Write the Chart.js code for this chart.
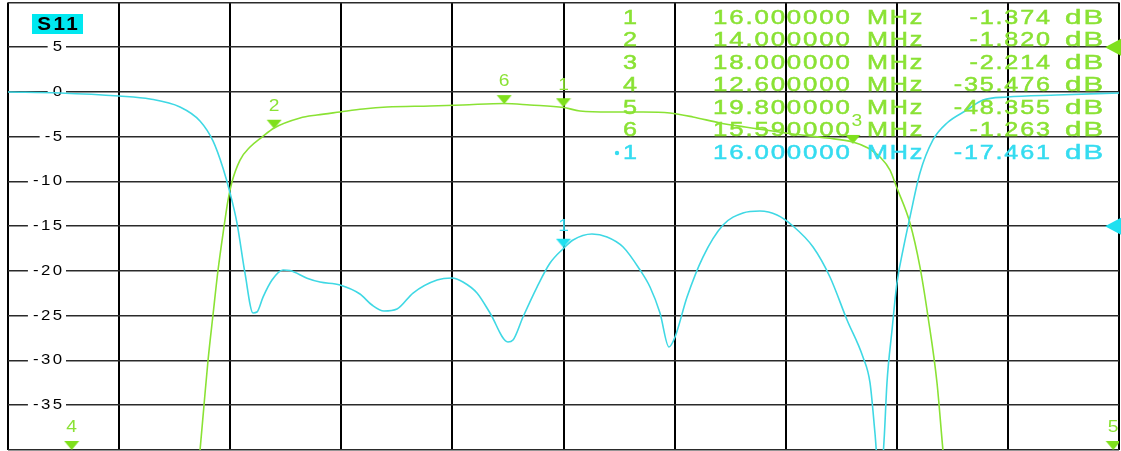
<!DOCTYPE html>
<html>
<head>
<meta charset="utf-8">
<title>S11 / S21</title>
<script src="https://cdn.jsdelivr.net/npm/chart.js@4.4.1/dist/chart.umd.min.js"></script>
<style>
  html, body { margin: 0; padding: 0; background: #fff; overflow: hidden; }
  #vna { display: block; }
</style>
</head>
<body>
<canvas id="vna" width="1121" height="451"></canvas>
<script>
// grid lines (10 divisions each way)
const xGridMHz = [12.16, 12.928, 13.696, 14.464, 15.232, 16.0, 16.768, 17.536, 18.304, 19.072, 19.84];
const yGridDb = [10, 5, 0, -5, -10, -15, -20, -25, -30, -35, -40];
const yTickLabels = [5, 0, -5, -10, -15, -20, -25, -30, -35];

// S11 trace (cyan)
const s11Freq = [12.16, 12.519, 12.927, 13.142, 13.349, 13.487, 13.577, 13.646, 13.695, 13.743,
  13.798, 13.854, 13.881, 13.923, 13.985, 14.061, 14.109, 14.227, 14.317, 14.455,
  14.593, 14.676, 14.759, 14.849, 14.96, 15.126, 15.229, 15.305, 15.402, 15.492,
  15.616, 15.651, 15.72, 15.817, 15.907, 16.003, 16.066, 16.197, 16.301, 16.412,
  16.529, 16.598, 16.667, 16.729, 16.771, 16.854, 16.964, 17.103, 17.241, 17.358,
  17.476, 17.586, 17.725, 17.842, 17.96, 18.07, 18.119, 18.153, 18.188, 18.216,
  18.236, 18.271, 18.305, 18.347, 18.395, 18.464, 18.554, 18.651, 18.789, 18.9,
  19.066, 19.411, 19.84];
const s11Db = [0, -0.11, -0.45, -0.78, -1.68, -3.24, -5.47, -8.49, -11.28, -14.64,
  -20.22, -24.69, -24.58, -22.91, -21.01, -19.89, -19.95, -20.8, -21.23, -21.56,
  -22.57, -23.8, -24.47, -24.25, -22.46, -21.01, -20.78, -21.23, -22.46, -24.69,
  -27.93, -27.71, -25.14, -21.79, -19.11, -17.43, -16.54, -15.87, -16.2, -17.32,
  -19.89, -21.79, -24.69, -28.49, -27.37, -22.91, -18.44, -14.86, -13.52, -13.3,
  -13.74, -14.97, -17.32, -20.67, -25.47, -29.61, -32.51, -38.1, -44.5, -38.9,
  -32.51, -26.59, -21.34, -17.65, -13.97, -9.05, -5.36, -3.46, -2.01, -0.89,
  -0.56, -0.34, -0.11];

// S21 trace (green)
const s21Freq = [13.453, 13.487, 13.515, 13.543, 13.577, 13.612, 13.653, 13.681, 13.708, 13.764,
  13.833, 13.916, 14.0, 14.179, 14.296, 14.455, 14.614, 14.78, 15.077, 15.305,
  15.59, 15.768, 16.0, 16.114, 16.322, 16.55, 16.736, 16.895, 17.082, 17.255,
  17.586, 17.822, 18.0, 18.105, 18.188, 18.257, 18.305, 18.395, 18.464, 18.52,
  18.582, 18.623, 18.651];
const s21Db = [-45.6, -40.1, -34.97, -29.94, -24.92, -19.89, -15.08, -12.07, -10.06, -7.6,
  -6.15, -5.03, -4.02, -2.91, -2.57, -2.23, -1.9, -1.68, -1.56, -1.45,
  -1.28, -1.45, -1.73, -2.12, -2.23, -2.23, -2.35, -2.79, -3.46, -3.91,
  -4.69, -5.14, -5.59, -6.26, -7.26, -8.72, -10.73, -14.64, -19.55, -25.14,
  -32.51, -40.0, -44.5];

// markers: readout table and where the triangle sits on screen
const markerIds = ['1', '2', '3', '4', '5', '6'];
const markerFreq = [16, 14, 18, 12.6, 19.8, 15.59];
const markerReadout = [-1.374, -1.820, -2.214, -35.476, -48.355, -1.263];
const markerOnTrace = [-1.7, -4.1, -5.8, -40, -40, -1.35];
const s11MarkerIds = ['1'];
const s11MarkerFreq = [16];
const s11MarkerReadout = [-17.461];
const s11MarkerOnTrace = [-17.4];

const s21RefDb = 5;
const s11RefDb = -15;

const GREEN = '#8ae234';
const GREEN_MARK = '#7fe01c';
const CYAN = '#3fd8e4';
const CYAN_TEXT = '#35dcf0';

function pts(xs, ys) {
    return xs.map(function (x, i) { return { x: x, y: ys[i] }; });
}

// triangle whose tip lands on the data point
function markerImage(color) {
    const c = document.createElement('canvas');
    c.width = 16;
    c.height = 20;
    const g = c.getContext('2d');
    g.fillStyle = color;
    g.beginPath();
    g.moveTo(0.5, 1);
    g.lineTo(15.5, 1);
    g.lineTo(8, 10);
    g.closePath();
    g.fill();
    return c;
}

// the analyser font is wide, so stretch it a little
function wideText(ctx, str, x, y, size, align, color, opts) {
    opts = opts || {};
    const sx = opts.sx || 1.2;
    const sp = opts.spacing != null ? opts.spacing : 2;
    ctx.save();
    ctx.font = (opts.bold ? 'bold ' : '') + size + 'px "Liberation Sans", Arial, sans-serif';
    ctx.letterSpacing = sp + 'px';
    ctx.textBaseline = 'middle';
    ctx.textAlign = 'left';
    const w = (ctx.measureText(str).width - sp) * sx;
    let left = x;
    if (align === 'right') left = x - w;
    else if (align === 'center') left = x - w / 2;
    if (opts.backdrop) {
        ctx.fillStyle = opts.backdrop;
        ctx.fillRect(left - 5, y - 7, w + 9, 14);
    }
    ctx.translate(left, y);
    ctx.scale(sx, 1);
    ctx.fillStyle = color;
    ctx.fillText(str, 0, 0);
    if (opts.stroke) {
        ctx.strokeStyle = color;
        ctx.lineWidth = opts.stroke;
        ctx.strokeText(str, 0, 0);
    }
    ctx.restore();
}

const vnaScreen = {
    id: 'vnaScreen',
    beforeDatasetsDraw: function (chart) {
        const ctx = chart.ctx;
        const y = chart.scales.y;
        yTickLabels.forEach(function (v) {
            wideText(ctx, String(v), 62, y.getPixelForValue(v), 14, 'right', '#000', { backdrop: '#fff' });
        });
    },
    afterDatasetsDraw: function (chart) {
        const ctx = chart.ctx;
        const y = chart.scales.y;

        // channel label
        ctx.fillStyle = '#00e8f0';
        ctx.fillRect(32, 14, 51, 20);
        wideText(ctx, 'S11', 57.5, 25, 18, 'center', '#000', { bold: true, sx: 1.15, spacing: 2 });

        // marker numbers over the triangles
        const m21 = chart.getDatasetMeta(2).data;
        m21.forEach(function (el, i) {
            wideText(ctx, markerIds[i], el.x + (markerIds[i] === '3' ? 4 : 0), el.y - 22, 16, 'center', GREEN);
        });
        const m11 = chart.getDatasetMeta(3).data;
        m11.forEach(function (el, i) {
            wideText(ctx, s11MarkerIds[i], el.x, el.y - 21, 16, 'center', CYAN_TEXT);
        });

        // readout table
        const rowY = function (i) { return 18 + 22.5 * i; };
        const t = { sx: 1.2, spacing: 1.5, stroke: 0.5 };
        const tf = { sx: 1.23, spacing: 1.5, stroke: 0.5 };
        const tdb = { sx: 1.4, spacing: 1.5, stroke: 0.5 };
        markerIds.forEach(function (id, i) {
            const ry = rowY(i);
            wideText(ctx, id, 630, ry, 21, 'center', GREEN, t);
            wideText(ctx, markerFreq[i].toFixed(6), 713, ry, 21, 'left', GREEN, tf);
            wideText(ctx, 'MHz', 867, ry, 21, 'left', GREEN, t);
            wideText(ctx, markerReadout[i].toFixed(3), 1050, ry, 21, 'right', GREEN, t);
            wideText(ctx, 'dB', 1065, ry, 21, 'left', GREEN, tdb);
        });
        s11MarkerIds.forEach(function (id, i) {
            const ry = rowY(markerIds.length + i);
            ctx.fillStyle = CYAN_TEXT;
            ctx.beginPath();
            ctx.arc(617, ry, 2.2, 0, Math.PI * 2);
            ctx.fill();
            wideText(ctx, id, 630, ry, 21, 'center', CYAN_TEXT, t);
            wideText(ctx, s11MarkerFreq[i].toFixed(6), 713, ry, 21, 'left', CYAN_TEXT, tf);
            wideText(ctx, 'MHz', 867, ry, 21, 'left', CYAN_TEXT, t);
            wideText(ctx, s11MarkerReadout[i].toFixed(3), 1050, ry, 21, 'right', CYAN_TEXT, t);
            wideText(ctx, 'dB', 1065, ry, 21, 'left', CYAN_TEXT, tdb);
        });

        // reference level arrows on the right edge
        [[s21RefDb, GREEN_MARK], [s11RefDb, '#1fe0f0']].forEach(function (r) {
            const py = y.getPixelForValue(r[0]);
            ctx.fillStyle = r[1];
            ctx.beginPath();
            ctx.moveTo(chart.width, py - 8.5);
            ctx.lineTo(chart.width - 16, py);
            ctx.lineTo(chart.width, py + 8.5);
            ctx.closePath();
            ctx.fill();
        });
    }
};

new Chart(document.getElementById('vna'), {
    type: 'scatter',
    data: {
        datasets: [
            {
                label: 'S11',
                data: pts(s11Freq, s11Db),
                showLine: true,
                borderColor: CYAN,
                borderWidth: 1.6,
                pointRadius: 0,
                cubicInterpolationMode: 'monotone'
            },
            {
                label: 'S21',
                data: pts(s21Freq, s21Db),
                showLine: true,
                borderColor: GREEN,
                borderWidth: 1.6,
                pointRadius: 0,
                cubicInterpolationMode: 'monotone'
            },
            {
                label: 'S21 markers',
                data: pts(markerFreq, markerOnTrace),
                showLine: false,
                pointStyle: markerImage(GREEN_MARK),
                pointRadius: 6
            },
            {
                label: 'S11 marker',
                data: pts(s11MarkerFreq, s11MarkerOnTrace),
                showLine: false,
                pointStyle: markerImage('#1fe0f0'),
                pointRadius: 6
            }
        ]
    },
    options: {
        responsive: false,
        animation: false,
        events: [],
        layout: { autoPadding: false, padding: { left: 8, right: 2, top: 2.5, bottom: 1 } },
        plugins: {
            legend: { display: false },
            tooltip: { enabled: false }
        },
        scales: {
            x: {
                type: 'linear',
                min: xGridMHz[0],
                max: xGridMHz[xGridMHz.length - 1],
                afterBuildTicks: function (scale) {
                    scale.ticks = xGridMHz.map(function (v) { return { value: v }; });
                },
                ticks: { display: false },
                grid: { color: '#000', lineWidth: 2, drawTicks: false },
                border: { display: false }
            },
            y: {
                type: 'linear',
                min: yGridDb[yGridDb.length - 1],
                max: yGridDb[0],
                afterBuildTicks: function (scale) {
                    scale.ticks = yGridDb.map(function (v) { return { value: v }; });
                },
                ticks: { display: false },
                grid: { color: '#2a2a2a', lineWidth: 1.6, drawTicks: false },
                border: { display: false }
            }
        }
    },
    plugins: [vnaScreen]
});
</script>
</body>
</html>
